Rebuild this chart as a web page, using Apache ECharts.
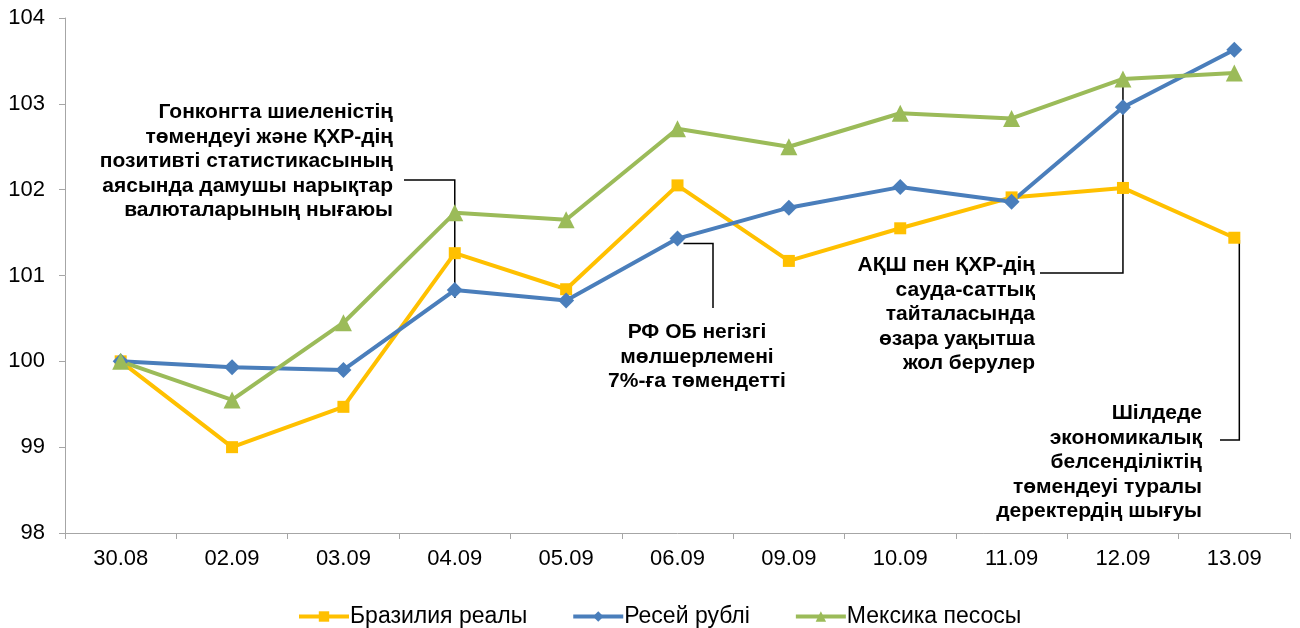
<!DOCTYPE html>
<html>
<head>
<meta charset="utf-8">
<script src="https://cdn.jsdelivr.net/npm/echarts@6/dist/echarts.min.js"></script>
<style>
  html, body { margin: 0; padding: 0; background: #fff; }
  #myChart { width: 1300px; height: 628px; }
</style>
</head>
<body>
<div id="myChart"></div>
<script>
const categories = ["30.08", "02.09", "03.09", "04.09", "05.09", "06.09", "09.09", "10.09", "11.09", "12.09", "13.09"];
const brazil = [100, 99.0, 99.47, 101.26, 100.84, 102.05, 101.17, 101.55, 101.91, 102.02, 101.44];
const russia = [100, 99.93, 99.9, 100.83, 100.71, 101.43, 101.79, 102.03, 101.86, 102.96, 103.63];
const mexico = [100, 99.55, 100.45, 101.73, 101.65, 102.71, 102.5, 102.89, 102.83, 103.29, 103.36];
const seriesNames = ["Бразилия реалы", "Ресей рублі", "Мексика песосы"];
const yMin = 98, yMax = 104, yStep = 1;

const notes = [
  "Гонконгта шиеленістің\nтөмендеуі және ҚХР-дің\nпозитивті статистикасының\nаясында дамушы нарықтар\nвалюталарының нығаюы",
  "РФ ОБ негізгі\nмөлшерлемені\n7%-ға төмендетті",
  "АҚШ пен ҚХР-дің\nсауда-саттық\nтайталасында\nөзара уақытша\nжол берулер",
  "Шілдеде\nэкономикалық\nбелсенділіктің\nтөмендеуі туралы\nдеректердің шығуы"
];

const font = '"Liberation Sans", Arial, sans-serif';
let chart = echarts.init(document.getElementById("myChart"));

function line(name, data, color, symbol, size) {
  return {
    name: name,
    type: "line",
    data: data,
    color: color,
    symbol: symbol,
    symbolSize: size,
    lineStyle: { width: 4, color: color },
    itemStyle: { color: color },
    animation: false
  };
}

let option = {
  backgroundColor: "#fff",
  grid: { left: 65, right: 10, top: 18, bottom: 95 },
  legend: {
    top: 600,
    left: 292,
    itemWidth: 50,
    itemHeight: 13,
    itemGap: 44,
    lineStyle: { width: 4 },
    textStyle: { fontSize: 23, color: "#000", fontFamily: font, padding: [0, 0, 0, -4] },
    data: seriesNames
  },
  xAxis: {
    type: "category",
    data: categories,
    boundaryGap: true,
    axisLine: { lineStyle: { color: "#a6a6a6", width: 1 } },
    axisTick: { show: true, length: 6, lineStyle: { color: "#a6a6a6" } },
    axisLabel: { fontSize: 22, color: "#000", margin: 15, fontFamily: font },
    splitLine: { show: false }
  },
  yAxis: {
    type: "value",
    min: yMin,
    max: yMax,
    interval: yStep,
    axisLine: { show: true, lineStyle: { color: "#a6a6a6", width: 1 } },
    axisTick: { show: true, length: 6, lineStyle: { color: "#a6a6a6" } },
    axisLabel: { fontSize: 22, color: "#000", margin: 20, fontFamily: font },
    splitLine: { show: false }
  },
  series: [
    line(seriesNames[0], brazil, "#FFC000", "rect", 12),
    line(seriesNames[1], russia, "#4A7EBB", "diamond", 16),
    line(seriesNames[2], mexico, "#9BBB59", "triangle", 17)
  ]
};
chart.setOption(option);

// leader lines start from the data points
function px(seriesIndex, i, data) {
  return chart.convertToPixel({ seriesIndex: seriesIndex }, [i, data[i]]);
}
let p1 = px(1, 3, russia);
let p2 = px(1, 5, russia);
let p3 = px(2, 9, mexico);
let p4 = px(0, 10, brazil);

function note(text, x, y, align) {
  return {
    type: "text",
    x: x,
    y: y,
    style: {
      text: text,
      fill: "#000",
      font: "bold 21px " + font,
      lineHeight: 24.5,
      align: align,
      verticalAlign: "top"
    }
  };
}
function leader(points) {
  return {
    type: "polyline",
    shape: { points: points },
    style: { stroke: "#000", lineWidth: 1.5, fill: null }
  };
}

chart.setOption({
  graphic: [
    note(notes[0], 393, 100, "right"),
    leader([[404, 180], [p1[0], 180], [p1[0], p1[1] + 8]]),
    note(notes[1], 697, 320, "center"),
    leader([[p2[0] + 6, p2[1] + 5], [713, p2[1] + 5], [713, 308]]),
    note(notes[2], 1035, 253, "right"),
    leader([[1040, 273], [p3[0], 273], [p3[0], p3[1] + 2]]),
    note(notes[3], 1202, 401, "right"),
    leader([[1220, 440], [p4[0] + 5, 440], [p4[0] + 5, p4[1] + 2]])
  ]
});
</script>
</body>
</html>
